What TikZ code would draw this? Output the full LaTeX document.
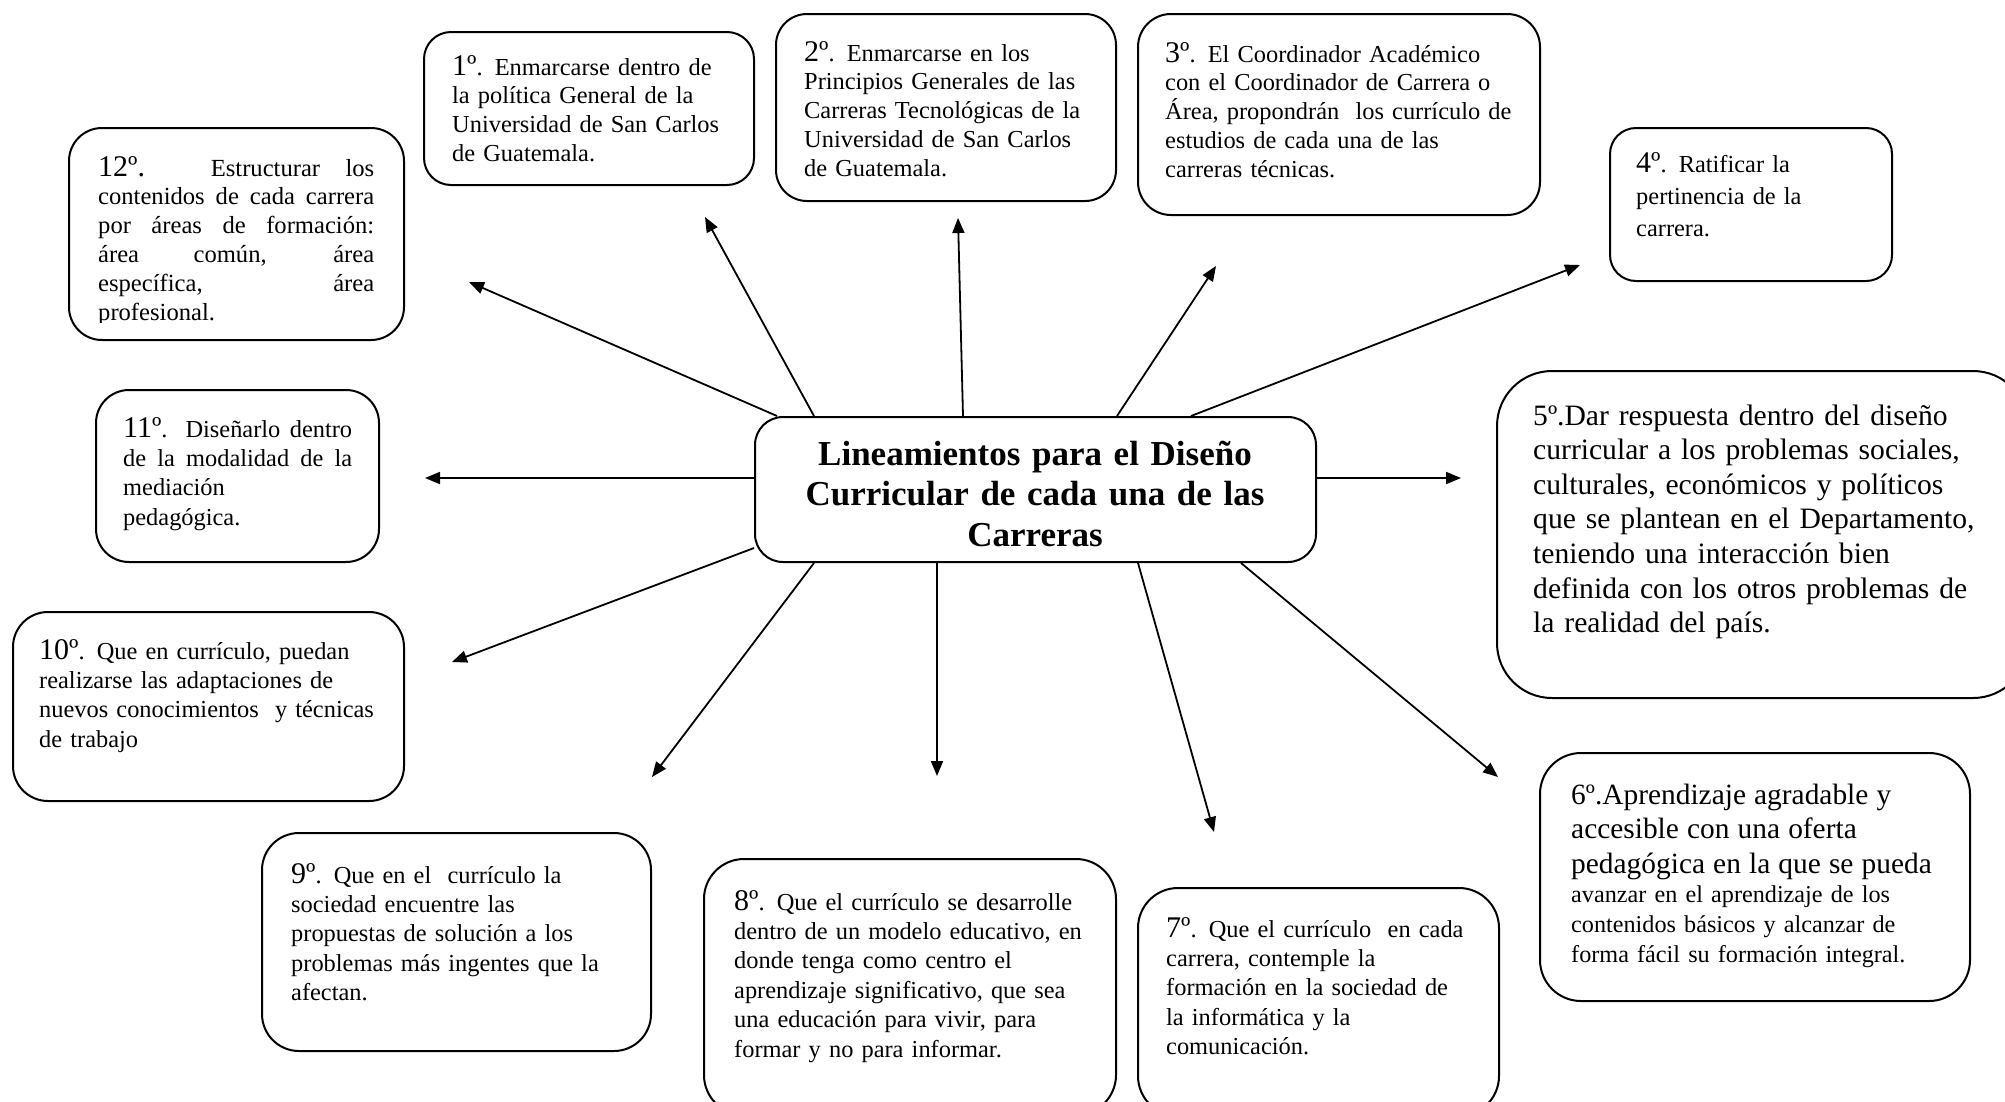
\documentclass[tikz,border=0pt]{standalone}
\usepackage{fontspec}
\setmainfont{Liberation Serif}
\usetikzlibrary{arrows.meta,fit}
\tikzset{
  rbox/.style={draw, line width=2pt, inner sep=0pt, rounded corners=#1},
  body/.style={inner sep=0pt, anchor=base west, align=left, font=\fontsize{24.4}{28.8}\selectfont},
  lowbody/.style={body, font=\fontsize{24.4}{29.4}\selectfont},
  bigbody/.style={inner sep=0pt, anchor=base west, align=left, font=\fontsize{29.6}{34.6}\selectfont},
  conn/.style={line width=1.8pt, -{Triangle[length=15pt,width=12pt]}},
}
\newcommand\numb[1]{{\fontsize{30}{28.5}\selectfont #1}}
\begin{document}
\begin{tikzpicture}[x=1pt,y=-1pt]
\useasboundingbox (0,0) rectangle (2005,1101);
% boxes
\node[rbox=33pt, fit={(69,128) (404,340)}] (b12) {};
\node[rbox=27pt, fit={(424,32) (754,185)}] (b1) {};
\node[rbox=31pt, fit={(776,14) (1116,201)}] (b2) {};
\node[rbox=33pt, fit={(1138,14) (1540,215)}] (b3) {};
\node[rbox=26pt, fit={(1610,128) (1892,281)}] (b4) {};
\node[rbox=55pt, fit={(1497,371) (2028,698)}] (b5) {};
\node[rbox=41pt, fit={(1540,753) (1970,1001)}] (b6) {};
\node[rbox=40pt, fit={(1138,888) (1499,1116)}] (b7) {};
\node[rbox=40pt, fit={(704,859) (1116,1115)}] (b8) {};
\node[rbox=37pt, fit={(262,833) (651,1051)}] (b9) {};
\node[rbox=35pt, fit={(13,612) (404,801)}] (b10) {};
\node[rbox=33pt, fit={(96,390) (379,562)}] (b11) {};
\node[rbox=28pt, fit={(755,417) (1316,562)}] (c) {};
% texts
\begin{scope}
\clip (60,120) rectangle (410,322);
\node[body, text width=276pt, align=justify, font=\fontsize{24.6}{28.9}\selectfont] (t12) at (98,176)
 {\numb{12º.} Estructurar los\linebreak contenidos de cada carrera\linebreak por áreas de formación:\linebreak área común, área\linebreak específica, área\linebreak profesional.};
\end{scope}
\node[body, text width=300pt] (t1) at (452,75)
 {\numb{1º}. Enmarcarse dentro de\\la política General de la\\Universidad de San Carlos\\de Guatemala.};
\node[body, text width=310pt] (t2) at (804,61)
 {\numb{2º}. Enmarcarse en los\\Principios Generales de las\\Carreras Tecnológicas de la\\Universidad de San Carlos\\de Guatemala.};
\node[body, text width=370pt] (t3) at (1165,62)
 {\numb{3º}. El Coordinador Académico\\con el Coordinador de Carrera o\\Área, propondrán\ \ los currículo de\\estudios de cada una de las\\carreras técnicas.};
\node[body, text width=250pt, font=\fontsize{24.4}{32}\selectfont] (t4) at (1636,172)
 {\numb{4º}. Ratificar la\\pertinencia de la\\carrera.};
\node[bigbody, text width=470pt] (t5) at (1533,425)
 {5º.Dar respuesta dentro del diseño\\curricular a los problemas sociales,\\culturales, económicos y políticos\\que se plantean en el Departamento,\\teniendo una interacción bien\\definida con los otros problemas de\\la realidad del país.};
\node[body, text width=390pt] (t6) at (1571,804)
 {{\fontsize{29.4}{34.6}\selectfont 6º.Aprendizaje agradable y\\accesible con una oferta\\pedagógica en la que se pueda\par}%
  {\fontsize{24.2}{29.6}\selectfont avanzar en el aprendizaje de los\\contenidos básicos y alcanzar de\\forma fácil su formación integral.\par}};
\node[lowbody, text width=320pt] (t7) at (1166,937)
 {\numb{7º}. Que el currículo\ \ en cada\\carrera, contemple la\\formación en la sociedad de\\la informática y la\\comunicación.};
\node[lowbody, text width=370pt] (t8) at (734,910)
 {\numb{8º}. Que el currículo se desarrolle\\dentro de un modelo educativo, en\\donde tenga como centro el\\aprendizaje significativo, que sea\\una educación para vivir, para\\formar y no para informar.};
\node[lowbody, text width=350pt] (t9) at (291,883)
 {\numb{9º}. Que en el\ \ currículo la\\sociedad encuentre las\\propuestas de solución a los\\problemas más ingentes que la\\afectan.};
\node[lowbody, text width=360pt] (t10) at (39,659)
 {\numb{10º}. Que en currículo, puedan\\realizarse las adaptaciones de\\nuevos conocimientos\ \ y técnicas\\de trabajo};
\node[lowbody, text width=229pt, align=justify] (t11) at (123,437)
 {\numb{11º}. Diseñarlo dentro\linebreak de la modalidad de la\linebreak mediación\newline pedagógica.};
\node[inner sep=0pt, anchor=base, text width=560pt, align=center, font=\fontsize{35}{40.5}\selectfont\bfseries] (ct) at (1035,465)
 {Lineamientos para el Diseño\\Curricular de cada una de las\\Carreras};
% connector ends
\coordinate (s12) at (c.north -| 777,0);
\coordinate (s1) at (c.north -| 814,0);
\coordinate (s2) at (c.north -| 963,0);
\coordinate (s3) at (c.north -| 1117,0);
\coordinate (s4) at (c.north -| 1191,0);
\coordinate (s5) at (c.east |- 0,478);
\coordinate (s6) at (c.south -| 1241,0);
\coordinate (s7) at (c.south -| 1138,0);
\coordinate (s8) at (c.south -| 937,0);
\coordinate (s9) at (c.south -| 814,0);
\coordinate (s10) at (c.west |- 0,548);
\coordinate (s11) at (c.west |- 0,478);
\coordinate (a12) at (469,282);
\coordinate (a1) at (705,217);
\coordinate (a2) at (958,218);
\coordinate (a3) at (1216,266);
\coordinate (a4) at (1580,265);
\coordinate (a5) at (1461,478);
\coordinate (a6) at (1498,777);
\coordinate (a7) at (1214,832);
\coordinate (a8) at (937,776);
\coordinate (a9) at (652,777);
\coordinate (a10) at (452,662);
\coordinate (a11) at (425,478);
\foreach \i in {1,...,12} {\draw[conn] (s\i) -- (a\i);}
\end{tikzpicture}
\end{document}
